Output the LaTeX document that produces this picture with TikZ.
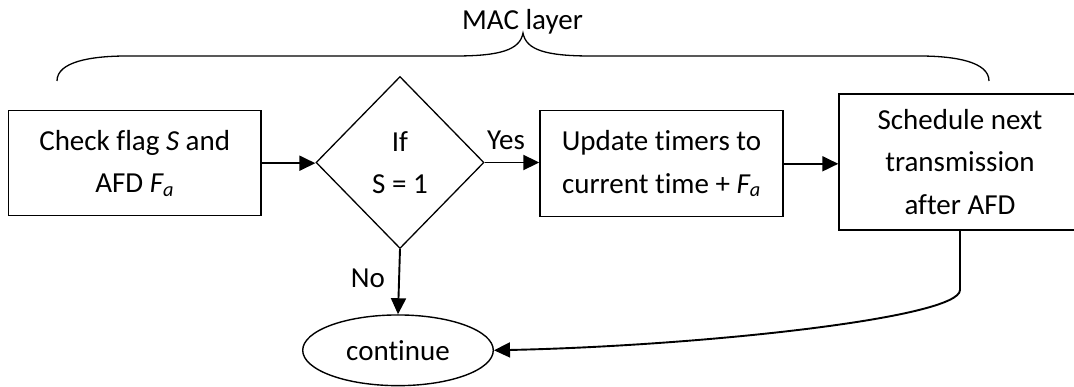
\documentclass[tikz,border=0pt]{standalone}
\usepackage{fontspec}
\setmainfont{Carlito}[RawFeature={-liga;-clig;-dlig}]
\usetikzlibrary{shapes.geometric,arrows.meta}

\tikzset{
  txt/.style={font=\fontsize{29}{42.5}\selectfont, align=center},
  procbox/.style={txt, draw, line width=1.4pt, rectangle, inner sep=0pt},
  decision/.style={txt, draw, line width=1.3pt, diamond, inner sep=0pt},
  terminal/.style={txt, draw, line width=1.4pt, ellipse, inner sep=0pt},
  flow/.style={line width=1.9pt, -{Triangle[length=16pt,width=15pt]}},
  lbl/.style={font=\fontsize{29}{34}\selectfont, inner sep=0pt},
}

\begin{document}
\begin{tikzpicture}[x=1pt, y=-1pt]
  \useasboundingbox (0,0) rectangle (1074,387);
  \fill[white] (0,0) rectangle (1074,387);
  \clip (0,0) rectangle (1074,387);

  % process steps
  \node[procbox, minimum width=252.7pt, minimum height=105pt] (check) at (134.7,163.2)
    {Check flag \textit{S} and\\AFD \textit{F\textsubscript{a}}};
  \node[decision, minimum width=168pt, minimum height=172pt] (test) at (400,162.5)
    {If\\S = 1};
  \node[procbox, minimum width=243pt, minimum height=106pt] (update) at (661.5,163.8)
    {Update timers to\\current time + \textit{F\textsubscript{a}}};
  \node[procbox, minimum width=242pt, minimum height=136pt] (sched) at (960,162)
    {Schedule next\\transmission\\after AFD};
  \node[terminal, minimum width=190.6pt, minimum height=70.7pt] (cont) at (398,350.3)
    {continue};

  % connectors
  \draw[flow] (check.east) -- (check.east -| test.west);
  \draw[flow] (test.east) -- (test.east -| update.west);
  \draw[flow] (update.east) -- (update.east -| sched.west);
  \draw[flow] (test.south) -- (cont.north);
  \coordinate (bend) at (960,290);
  \draw[flow] (sched.south) -- (bend) .. controls (960,318) and (700,346) .. (cont.east);

  % branch labels
  \node[lbl] (yes) at (506,140) {Yes};
  \node[lbl] (no) at (368,278) {No};

  % brace over the MAC-layer steps
  \node[lbl, anchor=base] (mac) at (522.5,29.3) {MAC layer};
  \coordinate (braceL) at (57,81);
  \coordinate (braceTip) at (523,33);
  \coordinate (braceR) at (989,81);
  \draw[line width=1.3pt] (braceL) .. controls (57,62) and (90,56) .. (127,56)
    -- (455,56) .. controls (500,56) and (520,50) .. (braceTip)
    .. controls (526,50) and (546,56) .. (591,56)
    -- (919,56) .. controls (956,56) and (989,62) .. (braceR);
\end{tikzpicture}
\end{document}
